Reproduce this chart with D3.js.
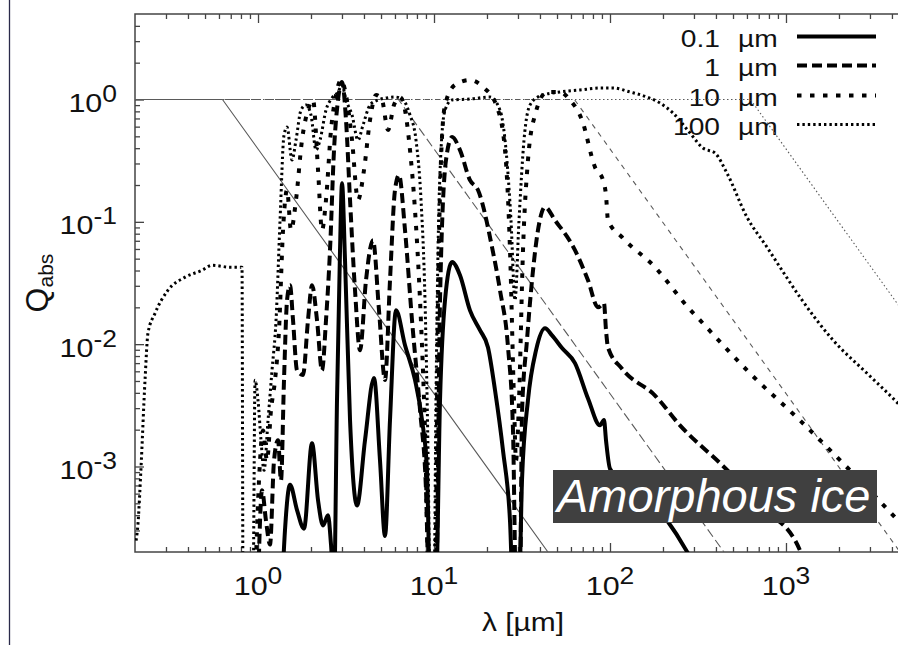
<!DOCTYPE html>
<html><head><meta charset="utf-8">
<script src="https://cdn.jsdelivr.net/npm/d3@7"></script>
<style>
html,body{margin:0;padding:0;background:#fff;overflow:hidden}
svg{display:block}
text{font-family:"Liberation Sans",Arial,Helvetica,sans-serif}
</style></head>
<body><svg id="chart" width="898" height="645"></svg>
<script>
// ---- data (λ in µm, Q_abs) ----
const sizeLabels = ["0.1", "1", "10", "100"];
const q01 = [[1.369,1e-4],[1.423,3.0e-4],[1.52,7.1e-4],[1.666,4.4e-4],[1.825,3.1e-4],[2.027,1.55e-3],[2.193,5.3e-4],[2.341,3.3e-4],[2.499,4.0e-4],[2.599,2.3e-4],[2.703,1e-4],[2.811,3.5e-3],[2.924,0.059],[3.001,0.207],[3.121,0.049],[3.333,2.4e-3],[3.652,4.8e-4],[4.055,1.64e-3],[4.561,5.3e-3],[4.933,1.12e-3],[5.267,2.7e-4],[5.623,2.4e-3],[6.082,0.0189],[6.843,9.8e-3],[7.798,5.1e-3],[8.549,2.4e-3],[9.125,9.3e-4],[9.49,1e-4],[10.26,1e-4],[10.82,3.5e-3],[11.55,0.0229],[12.66,0.047],[14.05,0.0366],[16.01,0.0189],[18.25,0.013],[20.27,9.4e-3],[22.22,4.2e-3],[24.66,1.35e-3],[27.03,3.6e-4],[28.11,1e-4],[30.41,1e-4],[31.62,7.7e-4],[34.2,3.5e-3],[37.98,8.9e-3],[42.73,0.0135],[46.83,0.0118],[53.36,9.3e-3],[63.24,7.0e-3],[75.0,3.6e-3],[87.75,2.17e-3],[92.45,2.4e-3],[94.91,1.64e-3],[100,9.6e-4],[205.4,3.83e-4],[277.5,1.95e-4],[292.4,1.7e-4]];
const q1 = [[1.0,1e-4],[1.054,6.4e-4],[1.11,3.6e-4],[1.17,2.3e-4],[1.233,1.12e-3],[1.299,1.64e-3],[1.351,7.7e-4],[1.405,5.1e-3],[1.462,0.0229],[1.52,0.0303],[1.581,0.0157],[1.666,6.1e-3],[1.802,5.6e-3],[1.923,0.0157],[2.027,0.0303],[2.164,0.0157],[2.31,6.1e-3],[2.434,0.0157],[2.565,0.0587],[2.703,0.386],[2.848,0.991],[3.001,1.39],[3.162,0.68],[3.333,0.151],[3.558,0.0276],[3.798,8.9e-3],[4.108,0.0333],[4.502,0.0708],[4.869,0.0189],[5.267,5.1e-3],[5.623,0.0333],[6.002,0.182],[6.324,0.241],[6.843,0.0855],[7.499,0.0157],[8.328,2.9e-3],[9.005,6.4e-4],[9.368,1e-4],[10.26,1e-4],[10.82,0.0229],[11.7,0.32],[12.66,0.493],[14.05,0.386],[16.01,0.219],[17.78,0.182],[21.36,0.0621],[23.71,0.0276],[26.34,9.4e-3],[28.11,1.97e-3],[29.24,1e-4],[30.81,1e-4],[31.62,2.72e-3],[33.76,0.0108],[36.06,0.0333],[38.98,0.0855],[42.73,0.132],[48.7,0.103],[63.24,0.0587],[75.0,0.0333],[85.45,0.02],[92.45,0.0216],[94.91,0.013],[97.41,9.4e-3],[117,6.3e-3],[180.3,3.8e-3],[249.9,2.17e-3],[438.5,1.01e-3],[740,4.63e-4],[1201,2.06e-4],[1299,1.55e-4]];
const q10 = [[0.962,1e-4],[1.013,7.7e-4],[1.068,1.97e-3],[1.125,1.12e-3],[1.185,2.88e-3],[1.249,5.07e-3],[1.316,0.013],[1.387,0.0855],[1.462,0.182],[1.54,0.0855],[1.644,0.151],[1.778,0.466],[1.923,0.82],[2.054,0.991],[2.193,0.265],[2.31,0.0855],[2.434,0.151],[2.599,0.563],[2.774,1.089],[2.962,1.444],[3.162,1.089],[3.421,0.466],[3.7,0.151],[4.002,0.265],[4.329,0.68],[4.682,1.089],[5.064,0.991],[5.478,0.563],[5.924,0.902],[6.41,1.048],[6.843,0.82],[7.305,0.386],[7.798,0.125],[8.328,0.0229],[8.889,1.97e-3],[9.368,1e-4],[10.13,1e-4],[10.54,0.0229],[10.96,0.32],[11.55,0.902],[13.16,1.314],[16.01,1.444],[18.98,1.266],[22.8,0.868],[25.32,0.386],[27.03,0.0587],[28.48,3.47e-3],[29.24,1.12e-3],[30.41,3.47e-3],[32.04,0.0587],[34.2,0.32],[37.49,0.747],[43.85,1.152],[51.98,1.152],[59.27,0.991],[69.31,0.68],[82.17,0.28],[91.25,0.219],[94.91,0.165],[97.41,0.103],[117,0.0749],[180.3,0.0426],[277.5,0.02],[324.6,0.0157],[624.4,5.78e-3],[1201,2.38e-3],[2310,9.3e-4],[4329,3.62e-4],[5198,2.73e-4]];
const q100 = [[0.203,2.48e-4],[0.208,3.42e-4],[0.216,9.3e-4],[0.228,5.07e-3],[0.237,0.0123],[0.26,0.0179],[0.308,0.0276],[0.385,0.0353],[0.481,0.0402],[0.548,0.0442],[0.693,0.0426],[0.811,0.0426],[0.822,1e-4],[0.937,1e-4],[0.962,5.07e-3],[1.0,3.47e-3],[1.04,1.64e-3],[1.082,9.3e-4],[1.14,2.38e-3],[1.201,6.1e-3],[1.266,0.0157],[1.334,0.103],[1.405,0.512],[1.462,0.596],[1.56,0.32],[1.644,0.466],[1.755,0.82],[1.874,0.902],[2.0,0.747],[2.136,0.386],[2.251,0.466],[2.434,0.82],[2.633,1.029],[2.848,1.152],[3.001,1.314],[3.162,0.991],[3.421,0.747],[3.7,0.466],[3.95,0.618],[4.329,0.902],[4.806,0.991],[5.337,1.029],[6.002,1.048],[6.665,0.991],[7.305,0.747],[7.901,0.466],[8.437,0.151],[8.889,0.0229],[9.245,1.35e-3],[9.49,1e-4],[10.0,1e-4],[10.26,3.47e-3],[10.54,0.0587],[10.96,0.386],[11.55,0.82],[12.66,0.991],[16.01,1.009],[20.81,1.048],[23.71,0.82],[25.66,0.386],[27.38,0.103],[28.85,0.0229],[30.41,0.103],[32.46,0.466],[35.12,0.902],[40.04,1.068],[51.98,1.152],[67.52,1.196],[87.75,1.242],[104,1.242],[129.9,1.152],[162.3,1.048],[192.4,0.936],[228,0.775],[284.8,0.532],[337.6,0.401],[395.1,0.365],[462.1,0.25],[600.4,0.109],[779.9,0.0621],[924.5,0.0426],[1201,0.0242],[1849,0.0108],[2886,5.78e-3],[4329,3.28e-3],[5198,2.47e-3]];
// geometric-optics reference lines (thin)
const geo01 = [[0.2,1],[0.628,1],[44.4,2e-4]];
const geo1 = [[0.2,1],[6.28,1],[444,2e-4]];
const geo10 = [[0.2,1],[62.8,1],[5000,1.58e-4]];
const geo100 = [[0.2,1],[628,1],[5000,0.0158]];
const xTicks = [1, 10, 100, 1000];
const xTickExp = ["0", "1", "2", "3"];
const yTicks = [1e-3, 1e-2, 1e-1, 1];
const yTickExp = ["-3", "-2", "-1", "0"];

// ---- layout ----
const L = 135, T = 14, R = 909, B = 552;
const svg = d3.select("#chart");
const x = d3.scaleLog().domain([0.2, 5000]).range([L, R]);
const y = d3.scaleLog().domain([2e-4, 5]).range([B, T]);
const SX = 1.15;

// page border line on the left
svg.append("line").attr("x1", 9.5).attr("x2", 9.5).attr("y1", 0).attr("y2", 645)
  .attr("stroke", "#2a2a4a").attr("stroke-width", 1.3);

svg.append("defs").append("clipPath").attr("id", "clip")
  .append("rect").attr("x", L).attr("y", T).attr("width", R - L).attr("height", B - T);

// minor tick values
const xMinor = [], yMinor = [];
for (let d = -1; d <= 3; d++) for (let k = 2; k <= 9; k++) { const v = k * Math.pow(10, d); if (v > 0.2 && v < 5000) xMinor.push(v); }
for (let d = -4; d <= 0; d++) for (let k = 2; k <= 9; k++) { const v = k * Math.pow(10, d); if (v > 2e-4 && v < 5) yMinor.push(v); }

function styleAxis(g) {
  g.select(".domain").remove();
  g.selectAll("line").attr("stroke", "#444").attr("stroke-width", 1.3);
  g.selectAll("text").remove();
}
svg.append("g").attr("transform", `translate(0,${B})`).call(d3.axisBottom(x).tickValues(xTicks).tickSize(-9)).call(styleAxis);
svg.append("g").attr("transform", `translate(0,${B})`).call(d3.axisBottom(x).tickValues(xMinor).tickSize(-5)).call(styleAxis);
svg.append("g").attr("transform", `translate(0,${T})`).call(d3.axisTop(x).tickValues(xTicks).tickSize(-9)).call(styleAxis);
svg.append("g").attr("transform", `translate(0,${T})`).call(d3.axisTop(x).tickValues(xMinor).tickSize(-5)).call(styleAxis);
svg.append("g").attr("transform", `translate(${L},0)`).call(d3.axisLeft(y).tickValues(yTicks).tickSize(-9)).call(styleAxis);
svg.append("g").attr("transform", `translate(${L},0)`).call(d3.axisLeft(y).tickValues(yMinor).tickSize(-5)).call(styleAxis);

// frame
svg.append("rect").attr("x", L).attr("y", T).attr("width", R - L).attr("height", B - T)
  .attr("fill", "none").attr("stroke", "#444").attr("stroke-width", 1.5);

function txt(x0, y0, anchor, size, sx) {
  return svg.append("text").attr("transform", `translate(${x0},${y0}) scale(${sx},1)`)
    .attr("text-anchor", anchor).style("font-size", size + "px").attr("fill", "#111");
}
// tick labels
xTicks.forEach((v, i) => {
  const t = txt(x(v), 595, "middle", 26.5, SX);
  t.append("tspan").text("10");
  t.append("tspan").attr("dy", -11).style("font-size", "23px").text(xTickExp[i]);
});
yTicks.forEach((v, i) => {
  const t = txt(117, y(v) + 12.5, "end", 26.5, SX);
  t.append("tspan").text("10");
  t.append("tspan").attr("dy", -10).style("font-size", "23px").text(yTickExp[i]);
});
// axis titles
txt(523, 631, "middle", 26, SX).text("λ [µm]");
const yt = svg.append("text").attr("transform", "translate(48,283) rotate(-90)")
  .attr("text-anchor", "middle").style("font-size", "32px").attr("fill", "#111");
yt.append("tspan").text("Q");
yt.append("tspan").attr("dy", 5).style("font-size", "21px").text("abs");

// legend
const styles = [
  { w: 4, dash: null },
  { w: 4, dash: "10,5" },
  { w: 4, dash: "4.5,8.5" },
  { w: 3, dash: "2.4,3" }
];
const legBase = [47, 76, 106, 135];
sizeLabels.forEach((s, i) => {
  txt(720, legBase[i], "end", 24.5, SX).text(s);
  txt(738, legBase[i], "start", 24.5, SX).text("µm");
  svg.append("line").attr("x1", 797).attr("x2", 876).attr("y1", legBase[i] - 10.5).attr("y2", legBase[i] - 10.5)
    .attr("stroke", "#000").attr("stroke-width", styles[i].w).attr("stroke-dasharray", styles[i].dash);
});

// curves
const plot = svg.append("g").attr("clip-path", "url(#clip)");
const lineThin = d3.line().x(d => x(d[0])).y(d => y(d[1]));
const lineThick = d3.line().x(d => x(d[0])).y(d => y(d[1])).curve(d3.curveMonotoneX);
const geoStyles = [null, "9,4", "5,5", "1.5,2.5"];
[geo01, geo1, geo10, geo100].forEach((g, i) => {
  plot.append("path").datum(g).attr("d", lineThin).attr("fill", "none")
    .attr("stroke", "#5a5a5a").attr("stroke-width", 1.1).attr("stroke-dasharray", geoStyles[i]);
});
[q100, q10, q1, q01].forEach((q, j) => {
  const i = 3 - j;
  plot.append("path").datum(q).attr("d", lineThick).attr("fill", "none")
    .attr("stroke", "#000").attr("stroke-width", styles[i].w)
    .attr("stroke-dasharray", styles[i].dash).attr("stroke-linejoin", "round");
});

// annotation box
svg.append("rect").attr("x", 553).attr("y", 470).attr("width", 324).attr("height", 53).attr("fill", "#404040");
svg.append("text").attr("x", 557).attr("y", 512).style("font-size", "47px").style("font-style", "italic")
  .attr("fill", "#fff").text("Amorphous ice");
</script>
</body></html>
